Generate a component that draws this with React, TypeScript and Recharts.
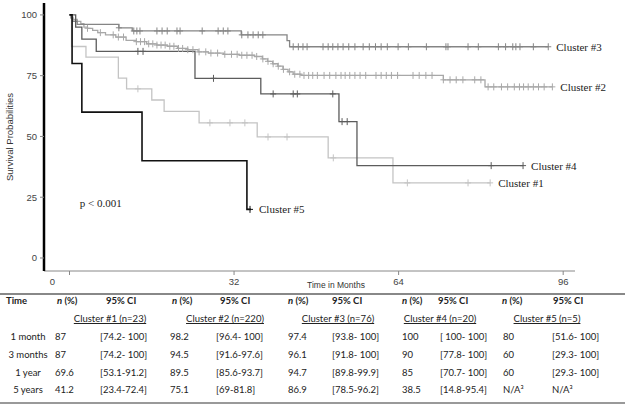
import React from "react";
import { ComposedChart, Line, Scatter, XAxis, YAxis, ReferenceDot } from "recharts";

// Kaplan-Meier steps: [months, survival %]
const cluster1Steps = [[0, 100], [0.4, 87], [3.2, 82.6], [9.5, 74], [11.1, 69.6], [16, 65], [18.4, 60.3], [25.2, 55.6], [36.5, 49.8], [50.3, 41.2], [62.9, 30.9], [81.8, 30.9]];
const cluster2Steps = [[0, 100], [0.3, 99.1], [0.7, 98.2], [1.5, 97.3], [2.2, 96.4], [2.8, 95], [3.5, 94.5], [4.5, 93.6], [5.5, 92.7], [7, 91.8], [9, 90.9], [11, 89.5], [13, 89], [15, 88.1], [17, 87.6], [19, 87.1], [21, 86.2], [23, 85.7], [25, 84.8], [27, 84.3], [30, 83.8], [33, 83.4], [36, 82.9], [37.5, 81.9], [38.5, 80.9], [39.5, 79.9], [40.5, 78.9], [41.5, 77.6], [42.5, 76.6], [43.5, 75.6], [45, 75.1], [72.7, 73.3], [80.8, 70.4], [93.9, 70.4]];
const cluster3Steps = [[0, 100], [0.3, 98.7], [0.6, 97.4], [1.5, 96.1], [9.6, 94.7], [12.2, 93.4], [33.4, 91.8], [42.3, 89.4], [42.8, 86.9], [93.1, 86.9]];
const cluster4Steps = [[0, 100], [1.2, 95], [2.4, 90], [5.2, 85], [24.4, 73.9], [37.2, 67.5], [52.4, 56.1], [55.9, 38], [88.2, 38]];
const cluster5Steps = [[0, 100], [0.5, 80], [2.4, 60], [14.1, 40], [34.5, 20], [35.3, 20]];

// censoring times (months)
const cluster1Censored = [13.3, 27.3, 31.2, 34.1, 38.6, 42.3, 51.3, 65.7, 77.5, 81.8];
const cluster2Censored = [3.5, 6, 8.5, 9.5, 10.5, 13, 13.8, 14.6, 15.4, 16.2, 17, 17.8, 18.6, 19.5, 20.3, 21.2, 22, 23, 24, 25.2, 26.5, 27.5, 28.8, 30.2, 31.5, 32.6, 33.5, 34.5, 35.5, 36.4, 37.6, 38.6, 39.6, 40.6, 41.6, 42.8, 43.8, 44.8, 45.6, 46.5, 47.3, 48.2, 49.5, 50.6, 51.8, 52.8, 53.6, 54.5, 55.5, 56.5, 57.6, 59.6, 60.6, 61.6, 62.6, 63.8, 66.8, 68, 69.3, 70.5, 72.7, 74, 75.2, 76.5, 78.8, 80, 81.4, 82.5, 84, 85.2, 86.5, 87.5, 88.3, 89.2, 90.2, 91.2, 92.3, 93.9];
const cluster3Censored = [9.6, 12.5, 13.1, 13.7, 17, 18, 19, 20.9, 21.5, 25.8, 28.9, 29.9, 30.8, 33.5, 34.7, 35.7, 36.7, 37.6, 43.5, 44.5, 45.4, 46.2, 49.3, 50.3, 51.2, 52.2, 53.2, 54.3, 55.5, 57.1, 58.3, 59.5, 60.6, 61.8, 63.9, 65.9, 69.4, 73.2, 73.6, 77.5, 79.5, 83.4, 84.8, 86.2, 86.8, 87.6, 90.2, 93.1];
const cluster4Censored = [13.3, 14.3, 28, 39.6, 43.5, 44.3, 51.2, 53, 54, 82, 88.2];
const cluster5Censored = [35.1];

const clusterLabels = ["Cluster #1", "Cluster #2", "Cluster #3", "Cluster #4", "Cluster #5"];
const clusterColors = ["#c4c4c4", "#a8a8a8", "#858585", "#5c5c5c", "#111111"];
const xTicks = [0, 32, 64, 96];
const yTicks = [0, 25, 50, 75, 100];

// table
const timeRows = ["1 month", "3 months", "1 year", "5 years"];
const tableClusters = ["Cluster #1 (n=23)", "Cluster #2 (n=220)", "Cluster #3 (n=76)", "Cluster #4 (n=20)", "Cluster #5 (n=5)"];
const pct1 = ["87", "87", "69.6", "41.2"];
const ci1 = ["[74.2- 100]", "[74.2- 100]", "[53.1-91.2]", "[23.4-72.4]"];
const pct2 = ["98.2", "94.5", "89.5", "75.1"];
const ci2 = ["[96.4- 100]", "[91.6-97.6]", "[85.6-93.7]", "[69-81.8]"];
const pct3 = ["97.4", "96.1", "94.7", "86.9"];
const ci3 = ["[93.8- 100]", "[91.8- 100]", "[89.8-99.9]", "[78.5-96.2]"];
const pct4 = ["100", "90", "85", "38.5"];
const ci4 = ["[ 100- 100]", "[77.8- 100]", "[70.7- 100]", "[14.8-95.4]"];
const pct5 = ["80", "60", "60", "N/A\u00b3"];
const ci5 = ["[51.6- 100]", "[29.3- 100]", "[29.3- 100]", "N/A\u00b3"];

const allSteps = [cluster1Steps, cluster2Steps, cluster3Steps, cluster4Steps, cluster5Steps];
const allCensored = [cluster1Censored, cluster2Censored, cluster3Censored, cluster4Censored, cluster5Censored];
const allPct = [pct1, pct2, pct3, pct4, pct5];
const allCi = [ci1, ci2, ci3, ci4, ci5];

const toPts = (steps: number[][]) => steps.map(([t, v]) => ({ t, v }));
const survAt = (steps: number[][], t: number) => {
  let v = steps[0][1];
  for (const [st, sv] of steps) if (st <= t) v = sv;
  return v;
};

const makeCross = (color: string) => (props: any) => {
  const { cx, cy } = props;
  if (cx == null || cy == null) return <g />;
  return (
    <g stroke={color} strokeWidth={1}>
      <line x1={cx - 3} x2={cx + 3} y1={cy} y2={cy} />
      <line x1={cx} x2={cx} y1={cy - 3.5} y2={cy + 3.5} />
    </g>
  );
};

const XTick = (props: any) => {
  const { x, y, payload } = props;
  const dx = payload.value === 0 ? -17 : 0;
  return (
    <text x={x + dx} y={y + 8} textAnchor="middle" fontSize={9.5} fill="#444" fontFamily="Liberation Sans, Arial, sans-serif">
      {payload.value}
    </text>
  );
};

const serif = "Liberation Serif, Times New Roman, serif";
const sans = "Liberation Sans, Arial, sans-serif";
const tableFont = "Lato, 'Open Sans', sans-serif";

const pctX = [55, 170, 288, 402, 503];
const ciX = [100, 216, 332, 440, 552];
const pctHeadX = [57, 172, 288, 402, 502];
const ciHeadX = [106, 220, 332, 438, 553];
const clusterCx = [110, 225, 338, 440, 547];
const rowY = [337, 355, 373, 390];

const cell = (left: number, top: number, text: string, extra: React.CSSProperties = {}) => (
  <div
    style={{
      position: "absolute",
      left,
      top: top - 7,
      height: 14,
      lineHeight: "14px",
      fontSize: 9.5,
      fontFamily: tableFont,
      color: "#222",
      whiteSpace: "nowrap",
      ...extra,
    }}
  >
    {text}
  </div>
);

export default function App() {
  return (
    <div style={{ position: "relative", width: 625, height: 405, background: "#fff" }}>
      <style>{"body{margin:0}"}</style>
      <ComposedChart width={625} height={290} margin={{ top: 3, right: 50, bottom: 0, left: 0 }}>
        <XAxis
          dataKey="t"
          type="number"
          domain={[-4.96, 98.3]}
          ticks={xTicks}
          allowDataOverflow
          height={19}
          tickSize={4}
          axisLine={{ stroke: "#888" }}
          tickLine={{ stroke: "#888" }}
          tick={<XTick />}
          label={{
            content: (p: any) => (
              <text x={336} y={p.viewBox.y + 17} textAnchor="middle" fontSize={8.5} fill="#333" fontFamily={sans}>
                Time in Months
              </text>
            ),
          }}
        />
        <YAxis
          dataKey="v"
          type="number"
          domain={[-5.35, 104.9]}
          ticks={yTicks}
          allowDataOverflow
          width={44}
          tickSize={4}
          tickMargin={3}
          axisLine={{ stroke: "#000", strokeWidth: 2.5 }}
          tickLine={{ stroke: "#888" }}
          tick={{ fontSize: 9.5, fill: "#444", fontFamily: sans }}
          label={{
            content: (p: any) => (
              <text
                x={13}
                y={p.viewBox.y + p.viewBox.height / 2}
                textAnchor="middle"
                fontSize={9.5}
                fill="#333"
                fontFamily={sans}
                transform={`rotate(-90 13 ${p.viewBox.y + p.viewBox.height / 2})`}
              >
                Survival Probabilities
              </text>
            ),
          }}
        />
        {allSteps.map((steps, i) => (
          <Line
            key={"l" + i}
            data={toPts(steps)}
            dataKey="v"
            type="stepAfter"
            stroke={clusterColors[i]}
            strokeWidth={i === 4 ? 1.6 : 1.3}
            dot={false}
            isAnimationActive={false}
          />
        ))}
        {allCensored.map((times, i) => (
          <Scatter
            key={"s" + i}
            data={times.map((t) => ({ t, v: survAt(allSteps[i], t) }))}
            dataKey="v"
            shape={makeCross(clusterColors[i])}
            isAnimationActive={false}
          />
        ))}
        {allSteps.map((steps, i) => (
          <ReferenceDot
            key={"r" + i}
            x={steps[steps.length - 1][0]}
            y={steps[steps.length - 1][1]}
            r={0}
            stroke="none"
            fill="none"
            label={{ value: clusterLabels[i], position: "right", offset: 8, fontSize: 11, fill: "#222", fontFamily: serif }}
          />
        ))}
        <ReferenceDot
          x={2}
          y={22.6}
          r={0}
          stroke="none"
          fill="none"
          label={{ value: "p < 0.001", position: "right", offset: 0, fontSize: 11, fill: "#222", fontFamily: serif }}
        />
      </ComposedChart>

      {/* summary table */}
      <div style={{ position: "absolute", left: 0, top: 293, width: 625, height: 2, background: "#888" }} />
      <div style={{ position: "absolute", left: 0, top: 402, width: 625, height: 1.5, background: "#999" }} />
      {cell(6, 301, "Time", { fontWeight: 700 })}
      {pctHeadX.map((x, i) => (
        <div
          key={"ph" + i}
          style={{ position: "absolute", left: x, top: 294, height: 14, lineHeight: "14px", fontSize: 9.5, fontWeight: 700, fontFamily: tableFont, color: "#222", whiteSpace: "nowrap" }}
        >
          <i>n</i> (%)
        </div>
      ))}
      {ciHeadX.map((x, i) => (
        <React.Fragment key={"ch" + i}>{cell(x, 301, "95% CI", { fontWeight: 700 })}</React.Fragment>
      ))}
      {tableClusters.map((c, i) => (
        <div
          key={"tc" + i}
          style={{
            position: "absolute",
            left: clusterCx[i] - 50,
            width: 100,
            textAlign: "center",
            top: 312,
            height: 14,
            lineHeight: "14px",
            fontSize: 9.5,
            fontFamily: tableFont,
            color: "#222",
            textDecoration: "underline",
          }}
        >
          {c}
        </div>
      ))}
      {timeRows.map((r, j) => (
        <div
          key={"tr" + j}
          style={{ position: "absolute", left: 0, width: 56, textAlign: "center", top: rowY[j] - 7, height: 14, lineHeight: "14px", fontSize: 9.5, fontFamily: tableFont, color: "#222" }}
        >
          {r}
        </div>
      ))}
      {allPct.map((col, i) => col.map((v, j) => <React.Fragment key={"p" + i + j}>{cell(pctX[i], rowY[j], v)}</React.Fragment>))}
      {allCi.map((col, i) => col.map((v, j) => <React.Fragment key={"c" + i + j}>{cell(ciX[i], rowY[j], v)}</React.Fragment>))}
    </div>
  );
}
